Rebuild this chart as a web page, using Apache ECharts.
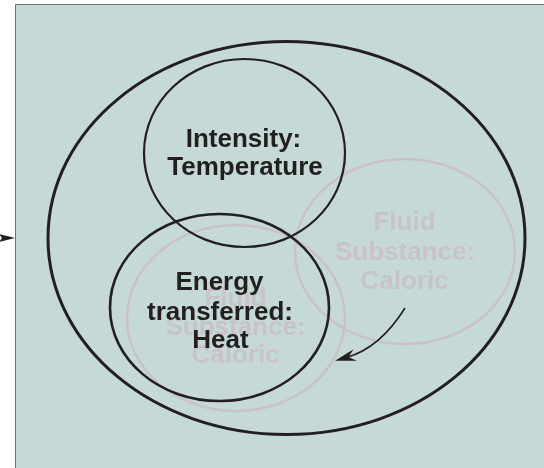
<!DOCTYPE html>
<html>
<head>
<meta charset="utf-8">
<script src="https://cdn.jsdelivr.net/npm/echarts@6/dist/echarts.min.js"></script>
<style>
  html, body { margin: 0; padding: 0; background: #fff; }
  #chart { width: 544px; height: 468px; }
</style>
</head>
<body>
<div id="chart"></div>
<script>
// diagram coordinates (x right, y down, pixels of the 544x468 frame)
const panelBox = [15, 4, 560, 480]

// rings: outer, intensity, energy (black); fluid right, fluid left (grey)
const blackRingX = [286.5, 244.5, 219.5]
const blackRingY = [238, 153, 307.5]
const blackRingRx = [238.5, 100.5, 109.5]
const blackRingRy = [196.5, 94, 93.5]

const greyRingX = [405, 236]
const greyRingY = [251.5, 318]
const greyRingRx = [110, 109]
const greyRingRy = [92.5, 93]

const blackLabels = ['Intensity:', 'Temperature', 'Energy', 'transferred:', 'Heat']
const blackLabelX = [243.5, 245, 219.5, 220, 220.5]
const blackLabelY = [139.5, 168, 283, 312.5, 341]

const greyLabels = ['Fluid', 'Substance:', 'Caloric', 'Fluid', 'Substance:', 'Caloric']
const greyLabelX = [404.5, 405, 404.5, 235.5, 235.5, 235.5]
const greyLabelY = [222.5, 253, 281.5, 299, 327.5, 356]

// curved arrow: start, control, tip
const curveArrow = [405, 308, 380, 348, 335, 360.7]
// side arrow: tail, tip
const sideArrow = [0, 238, 15, 238]

// styles
const INK = '#231f20'
const GREY = '#c9c3c8'
const PANEL_FILL = '#c5dad7'
const blackRingWidth = [3, 2.2, 2.6]
const LABEL_FONT = 'bold 26px "Liberation Sans", Arial, Helvetica, sans-serif'

const chart = echarts.init(document.getElementById('chart'))

function zip(...cols) {
  return cols[0].map((_, i) => cols.map(c => c[i]))
}

function renderPanel(params, api) {
  const p0 = api.coord([api.value(0), api.value(1)])
  const p1 = api.coord([api.value(2), api.value(3)])
  return {
    type: 'rect',
    shape: { x: p0[0] + 0.5, y: p0[1] + 0.5, width: p1[0] - p0[0], height: p1[1] - p0[1] },
    style: { fill: PANEL_FILL, stroke: '#6e6e6e', lineWidth: 1 },
  }
}

function ringRenderer(color, widths) {
  return function (params, api) {
    const c = api.coord([api.value(0), api.value(1)])
    const s = api.size([api.value(2), api.value(3)], [api.value(0), api.value(1)])
    return {
      type: 'ellipse',
      shape: { cx: c[0], cy: c[1], rx: s[0], ry: s[1] },
      style: { fill: 'none', stroke: color, lineWidth: widths[params.dataIndex] },
    }
  }
}

// labels: the text comes from the names array, the position from the data
function labelRenderer(texts, color) {
  return function (params, api) {
    const c = api.coord([api.value(0), api.value(1)])
    return {
      type: 'text',
      x: c[0],
      y: c[1],
      style: {
        text: texts[params.dataIndex],
        fill: color,
        font: LABEL_FONT,
        align: 'center',
        verticalAlign: 'middle',
      },
    }
  }
}

function arrowHead(tip, dir, len, half, notch) {
  const n = [-dir[1], dir[0]]
  const back = [tip[0] - len * dir[0], tip[1] - len * dir[1]]
  const mid = [tip[0] - notch * dir[0], tip[1] - notch * dir[1]]
  return [
    tip,
    [back[0] + half * n[0], back[1] + half * n[1]],
    mid,
    [back[0] - half * n[0], back[1] - half * n[1]],
  ]
}

function renderArrows(params, api) {
  const p0 = api.coord([curveArrow[0], curveArrow[1]])
  const cp = api.coord([curveArrow[2], curveArrow[3]])
  const tip = api.coord([curveArrow[4], curveArrow[5]])
  let d = [tip[0] - cp[0], tip[1] - cp[1]]
  let l = Math.hypot(d[0], d[1])
  d = [d[0] / l, d[1] / l]
  const end = [tip[0] - 12 * d[0], tip[1] - 12 * d[1]]

  const s0 = api.coord([sideArrow[0], sideArrow[1]])
  const s1 = api.coord([sideArrow[2], sideArrow[3]])
  let sd = [s1[0] - s0[0], s1[1] - s0[1]]
  l = Math.hypot(sd[0], sd[1])
  sd = [sd[0] / l, sd[1] / l]

  return {
    type: 'group',
    children: [
      {
        type: 'bezierCurve',
        shape: { x1: p0[0], y1: p0[1], x2: end[0], y2: end[1], cpx1: cp[0], cpy1: cp[1] },
        style: { fill: 'none', stroke: INK, lineWidth: 1.6 },
      },
      {
        type: 'polygon',
        shape: { points: arrowHead(tip, d, 21, 6, 14) },
        style: { fill: INK },
      },
      {
        type: 'polygon',
        shape: { points: arrowHead(s1, sd, 16, 4, 13) },
        style: { fill: INK },
      },
    ],
  }
}

const option = {
  animation: false,
  grid: { left: 0, top: 0, right: 0, bottom: 0 },
  xAxis: { type: 'value', min: 0, max: 544, show: false },
  yAxis: { type: 'value', min: 0, max: 468, inverse: true, show: false },
  series: [
    {
      type: 'custom',
      z: 1,
      renderItem: renderPanel,
      data: [panelBox],
    },
    {
      type: 'custom',
      z: 2,
      renderItem: ringRenderer(GREY, [2.6, 2.6]),
      data: zip(greyRingX, greyRingY, greyRingRx, greyRingRy),
    },
    {
      type: 'custom',
      z: 3,
      renderItem: labelRenderer(greyLabels, GREY),
      data: zip(greyLabelX, greyLabelY),
    },
    {
      type: 'custom',
      z: 4,
      renderItem: ringRenderer(INK, blackRingWidth),
      data: zip(blackRingX, blackRingY, blackRingRx, blackRingRy),
    },
    {
      type: 'custom',
      z: 5,
      renderItem: labelRenderer(blackLabels, INK),
      data: zip(blackLabelX, blackLabelY),
    },
    {
      type: 'custom',
      z: 6,
      renderItem: renderArrows,
      data: [[0]],
    },
  ],
}

chart.setOption(option)
</script>
</body>
</html>
